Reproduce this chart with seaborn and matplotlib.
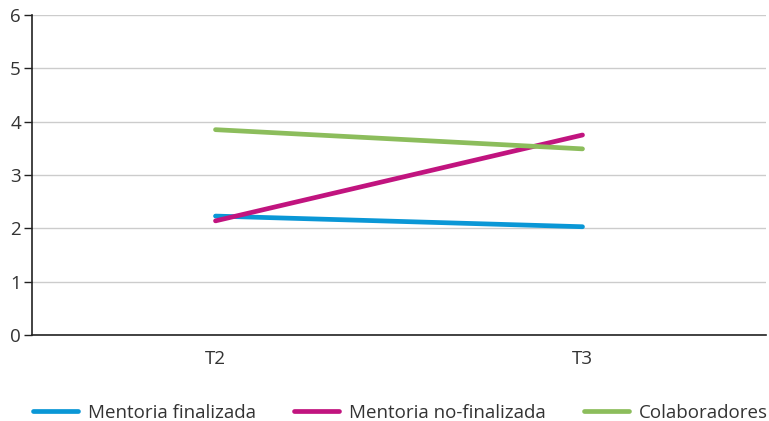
import matplotlib.pyplot as plt
import pandas as pd
import seaborn as sns

periods = ["T2", "T3"]
series_names = ["Mentoria finalizada", "Mentoria no-finalizada", "Colaboradores"]
finalizada = [2.23, 2.03]
no_finalizada = [2.14, 3.75]
colaboradores = [3.85, 3.49]
colors = ["#0a97d6", "#c1147f", "#8cbd5c"]

df = pd.DataFrame(
    {
        "periodo": periods * 3,
        "valor": finalizada + no_finalizada + colaboradores,
        "serie": [s for s in series_names for _ in periods],
    }
)

sns.set_style("white")
plt.rcParams["font.family"] = ["Open Sans", "DejaVu Sans"]

fig = plt.figure(figsize=(7.69, 4.21), dpi=100)
ax = fig.add_axes([32 / 769, 1 - 335 / 421, (766 - 32) / 769, (335 - 15) / 421])

sns.lineplot(
    data=df,
    x="periodo",
    y="valor",
    hue="serie",
    hue_order=series_names,
    palette=colors,
    linewidth=3.4,
    ax=ax,
    legend=True,
)

ax.set_xlim(-0.5, 1.5)
ax.set_ylim(0, 6)
ax.set_yticks(range(0, 7))
ax.yaxis.grid(True, color="#cccccc", linewidth=1)
ax.xaxis.grid(False)
ax.set_axisbelow(True)
ax.set_xlabel("")
ax.set_ylabel("")
for side in ["top", "right"]:
    ax.spines[side].set_visible(False)
for side in ["left", "bottom"]:
    ax.spines[side].set_color("#222222")
    ax.spines[side].set_linewidth(1.2)
ax.tick_params(axis="y", length=6, width=1, color="#222222", labelsize=13.5,
               labelcolor="#333333", pad=2, left=True)
ax.tick_params(axis="x", length=0, labelsize=13.5, labelcolor="#333333", pad=11)

handles, labels = ax.get_legend_handles_labels()
ax.legend(
    handles,
    labels,
    loc="center",
    bbox_to_anchor=(0.5 + 16 / 769, 8 / 421),
    bbox_transform=fig.transFigure,
    ncol=3,
    frameon=False,
    fontsize=13.5,
    handlelength=2.4,
    columnspacing=2.0,
    handletextpad=0.55,
    borderpad=0.2,
)
for t in ax.get_legend().get_texts():
    t.set_color("#333333")

fig.savefig("out.png", dpi=100)
